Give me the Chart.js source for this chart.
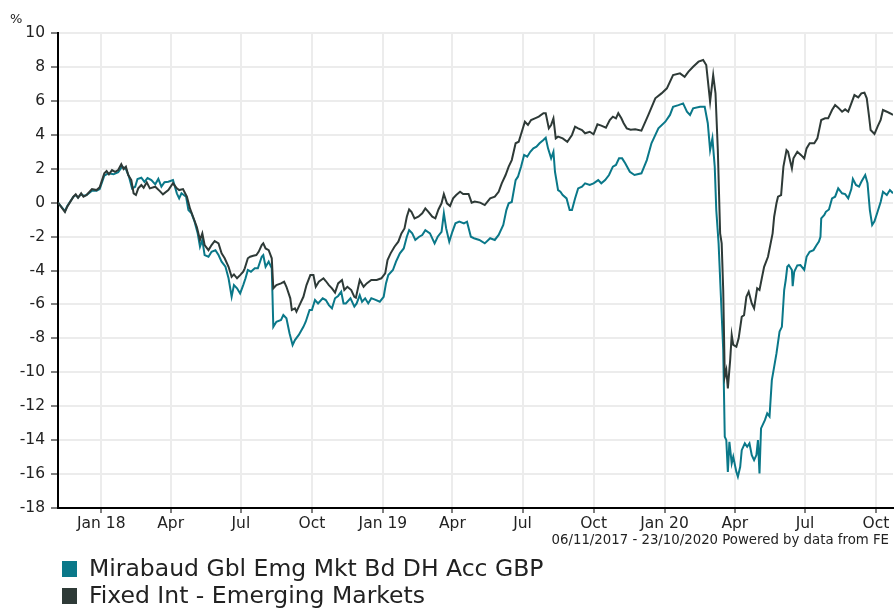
<!DOCTYPE html>
<html>
<head>
<meta charset="utf-8">
<script src="https://cdn.jsdelivr.net/npm/chart.js@4.4.0/dist/chart.umd.min.js"></script>
<style>
  body { margin: 0; background: #fff; font-family: 'DejaVu Sans', Verdana, sans-serif; }
  #wrap { position: relative; width: 894px; height: 608px; }
  #pct { position: absolute; left: 10px; top: 11px; font-size: 13px; color: #222; }
  #note { position: absolute; right: 5px; top: 532px; font-size: 13.3px; color: #222; }
  .leg { position: absolute; left: 62px; font-size: 23.5px; color: #222; white-space: nowrap; line-height: 28px; }
  .leg span { display: inline-block; width: 15px; height: 16px; margin-right: 12px; vertical-align: -1px; }
</style>
</head>
<body>
<div id="wrap">
  <canvas id="myChart" width="894" height="608"></canvas>
  <div id="pct">%</div>
  <div id="note">06/11/2017 - 23/10/2020 Powered by data from FE</div>
  <div class="leg" style="top:554px"><span style="background:#0a7889"></span>Mirabaud Gbl Emg Mkt Bd DH Acc GBP</div>
  <div class="leg" style="top:581px"><span style="background:#2e3a37"></span>Fixed Int - Emerging Markets</div>
</div>
<script>
// days counted from 06/11/2017
const tickDays = [56, 146, 237, 329, 421, 511, 602, 694, 786, 877, 968, 1060];
const tickLabels = ['Jan 18', 'Apr', 'Jul', 'Oct', 'Jan 19', 'Apr', 'Jul', 'Oct', 'Jan 20', 'Apr', 'Jul', 'Oct'];

// Mirabaud Gbl Emg Mkt Bd DH Acc GBP  [day, % growth]
const fund = [
  [0, 0], [9, -0.5], [12, -0.2], [20, 0.35], [23, 0.45], [26, 0.3], [30, 0.5], [33, 0.4], [37, 0.45],
  [44, 0.7], [50, 0.7], [54, 0.8], [60, 1.59], [65, 1.73], [72, 1.67], [78, 1.79], [83, 2.12], [88, 1.98],
  [92, 1.53], [96, 0.84], [100, 0.94], [103, 1.39], [108, 1.47], [112, 1.23], [116, 1.45], [121, 1.33],
  [126, 1.08], [130, 1.4], [134, 0.94], [138, 1.2], [143, 1.23], [149, 1.33], [154, 0.55], [157, 0.25],
  [160, 0.55], [166, 0.35], [169, -0.44], [173, -0.63], [177, -1.12], [181, -1.81], [184, -2.6], [187, -2.2],
  [190, -3.09], [195, -3.19], [199, -2.9], [204, -2.8], [208, -3.09], [212, -3.48], [217, -3.78], [221, -4.46],
  [225, -5.55], [228, -4.86], [232, -5.05], [236, -5.35], [240, -4.86], [243, -4.46], [246, -3.97], [250, -4.07],
  [255, -3.87], [259, -3.87], [264, -3.19], [266, -3.09], [269, -3.78], [273, -3.48], [277, -3.87], [279, -7.32],
  [283, -7.02], [289, -6.92], [292, -6.63], [296, -6.82], [300, -7.7], [304, -8.39], [307, -8.1], [312, -7.8],
  [318, -7.32], [321, -7.02], [326, -6.33], [329, -6.33], [333, -5.74], [337, -5.94], [343, -5.64], [347, -5.74],
  [351, -6.04], [355, -6.23], [359, -5.64], [363, -5.5], [367, -5.25], [370, -5.94], [373, -5.94], [379, -5.64],
  [384, -6.13], [387, -5.94], [391, -5.45], [394, -5.84], [398, -5.64], [402, -5.94], [406, -5.64], [410, -5.7],
  [417, -5.84], [422, -5.55], [425, -4.76], [428, -4.27], [434, -3.97], [438, -3.48], [443, -2.99], [448, -2.7],
  [452, -2.01], [455, -1.62], [459, -1.81], [463, -2.2], [468, -2.01], [472, -1.91], [476, -1.62], [482, -1.81],
  [488, -2.4], [492, -2.01], [497, -1.72], [500, -0.63], [503, -1.52], [507, -2.3], [511, -1.72], [515, -1.22],
  [520, -1.12], [526, -1.22], [530, -1.12], [535, -2.01], [539, -2.1], [546, -2.2], [553, -2.4], [560, -2.1],
  [566, -2.2], [571, -1.9], [577, -1.32], [581, -0.44], [584, -0.04], [588, 0.04], [593, 1.33], [596, 1.53],
  [600, 2.12], [604, 2.81], [608, 2.71], [612, 3.0], [616, 3.2], [620, 3.3], [624, 3.5], [629, 3.69],
  [632, 3.83], [635, 3.2], [639, 2.61], [642, 3.0], [644, 1.82], [648, 0.74], [651, 0.64], [654, 0.45],
  [659, 0.25], [663, -0.44], [666, -0.44], [670, 0.25], [674, 0.84], [679, 0.94], [683, 1.14], [689, 1.04],
  [694, 1.14], [700, 1.33], [704, 1.14], [709, 1.33], [714, 1.63], [719, 2.12], [723, 2.22], [727, 2.61],
  [731, 2.61], [735, 2.32], [741, 1.82], [747, 1.63], [756, 1.73], [763, 2.51], [769, 3.5], [778, 4.38],
  [787, 4.77], [793, 5.17], [797, 5.65], [804, 5.75], [810, 5.85], [815, 5.36], [819, 5.17], [823, 5.56],
  [832, 5.65], [838, 5.65], [842, 4.68], [845, 3.1], [848, 3.79], [851, 2.12], [853, -0.44], [856, -2.4],
  [859, -5.55], [862, -8.69], [864, -13.8], [866, -14.0], [868, -15.87], [870, -14.1], [873, -15.37], [875, -14.98],
  [879, -15.87], [881, -16.16], [884, -15.57], [886, -14.59], [890, -14.19], [893, -14.39], [896, -14.19], [899, -14.88],
  [902, -15.18], [905, -14.88], [907, -14.0], [909, -15.96], [911, -13.31], [916, -12.82], [919, -12.42], [922, -12.6],
  [925, -10.46], [928, -9.68], [931, -8.89], [935, -7.6], [938, -7.32], [941, -5.15], [943, -4.56], [945, -3.78],
  [947, -3.68], [951, -3.97], [952, -4.92], [954, -4.07], [958, -3.7], [962, -3.68], [967, -3.97], [970, -3.19],
  [974, -2.9], [979, -2.8], [983, -2.5], [986, -2.3], [988, -2.01], [989, -0.93], [993, -0.73], [995, -0.54],
  [999, -0.4], [1003, 0.25], [1007, 0.35], [1011, 0.84], [1016, 0.55], [1020, 0.5], [1024, 0.25], [1028, 0.8],
  [1030, 1.4], [1034, 1.04], [1038, 0.94], [1041, 1.23], [1046, 1.63], [1049, 1.14], [1052, -0.44], [1055, -1.32],
  [1058, -1.1], [1062, -0.54], [1066, 0.04], [1069, 0.64], [1074, 0.45], [1078, 0.74], [1082, 0.55]
];

// Fixed Int - Emerging Markets  [day, % growth]
const sector = [
  [0, 0], [9, -0.55], [12, -0.24], [20, 0.35], [23, 0.49], [26, 0.29], [30, 0.55], [33, 0.35], [37, 0.45],
  [44, 0.8], [50, 0.74], [54, 0.9], [60, 1.73], [63, 1.86], [66, 1.67], [70, 1.92], [74, 1.82], [78, 1.92],
  [82, 2.26], [85, 1.98], [88, 2.12], [91, 1.63], [95, 1.33], [98, 0.55], [101, 0.45], [104, 0.84], [108, 1.04],
  [111, 0.88], [115, 1.2], [119, 0.84], [126, 0.94], [132, 0.68], [136, 0.49], [143, 0.74], [149, 1.14],
  [154, 0.84], [157, 0.74], [162, 0.8], [167, 0.35], [171, -0.34], [175, -0.83], [180, -1.45], [184, -2.2],
  [187, -1.81], [190, -2.5], [195, -2.8], [199, -2.5], [203, -2.26], [208, -2.4], [212, -2.99], [216, -3.28],
  [221, -3.78], [225, -4.37], [228, -4.23], [232, -4.46], [236, -4.27], [240, -4.07], [242, -3.87], [246, -3.28],
  [249, -3.19], [253, -3.13], [257, -3.09], [260, -2.9], [264, -2.5], [266, -2.4], [269, -2.7], [273, -2.8],
  [277, -3.28], [279, -5.05], [283, -4.86], [289, -4.76], [293, -4.66], [296, -4.96], [301, -5.64], [303, -6.33],
  [307, -6.23], [309, -6.43], [314, -5.94], [318, -5.55], [322, -4.86], [327, -4.27], [331, -4.27], [334, -4.96],
  [338, -4.66], [344, -4.46], [347, -4.62], [351, -4.86], [355, -5.05], [359, -5.3], [363, -4.76], [368, -4.56],
  [371, -5.15], [375, -4.96], [380, -5.15], [384, -5.55], [386, -5.6], [391, -4.56], [396, -4.96], [400, -4.76],
  [406, -4.56], [413, -4.56], [419, -4.46], [424, -4.17], [427, -3.38], [431, -2.99], [436, -2.6], [441, -2.3],
  [445, -1.81], [449, -1.52], [452, -0.83], [455, -0.4], [458, -0.54], [462, -0.93], [467, -0.83], [472, -0.63],
  [476, -0.34], [480, -0.54], [485, -0.83], [489, -0.93], [493, -0.4], [497, -0.04], [500, 0.51], [504, -0.04],
  [508, -0.2], [512, 0.25], [516, 0.45], [521, 0.64], [525, 0.51], [532, 0.51], [536, 0], [540, 0.07],
  [547, 0], [553, -0.14], [560, 0.25], [566, 0.35], [571, 0.64], [575, 1.14], [580, 1.63], [584, 2.12],
  [588, 2.51], [593, 3.5], [597, 3.59], [601, 4.18], [605, 4.77], [609, 4.58], [613, 4.87], [618, 4.97],
  [623, 5.07], [629, 5.27], [632, 5.27], [636, 4.38], [639, 4.58], [642, 4.97], [645, 3.79], [648, 3.89],
  [654, 3.79], [660, 3.59], [666, 3.99], [670, 4.48], [674, 4.38], [679, 4.28], [683, 4.09], [689, 4.18],
  [694, 4.03], [699, 4.62], [704, 4.54], [710, 4.42], [715, 4.87], [719, 5.07], [723, 4.97], [726, 5.27],
  [730, 4.97], [733, 4.68], [737, 4.38], [742, 4.3], [748, 4.32], [756, 4.24], [765, 5.17], [774, 6.15],
  [782, 6.44], [789, 6.74], [797, 7.52], [806, 7.62], [812, 7.42], [817, 7.72], [823, 8.01], [830, 8.31],
  [836, 8.41], [840, 8.11], [845, 5.95], [849, 7.52], [852, 6.44], [855, 3.1], [858, -1.81], [860, -2.4],
  [862, -5.15], [864, -10.26], [866, -9.87], [868, -10.95], [871, -9.28], [873, -7.8], [875, -8.39], [879, -8.49],
  [882, -8.0], [886, -6.73], [889, -6.63], [892, -5.55], [895, -5.25], [899, -5.94], [902, -6.23], [906, -5.05],
  [909, -5.15], [912, -4.46], [915, -3.78], [920, -3.19], [926, -1.81], [928, -0.83], [931, -0.04], [933, 0.35],
  [937, 0.45], [940, 2.12], [944, 3.1], [946, 3.0], [951, 2.02], [953, 2.61], [958, 3.0], [963, 2.8],
  [967, 2.61], [970, 3.2], [974, 3.5], [980, 3.5], [984, 3.79], [989, 4.87], [994, 4.97], [998, 4.97],
  [1003, 5.46], [1007, 5.75], [1011, 5.6], [1016, 5.36], [1020, 5.5], [1024, 5.36], [1028, 5.85], [1032, 6.34],
  [1037, 6.2], [1041, 6.44], [1045, 6.48], [1048, 6.15], [1051, 5.07], [1053, 4.28], [1058, 4.05], [1062, 4.48],
  [1066, 4.87], [1069, 5.46], [1074, 5.36], [1078, 5.27], [1082, 5.17]
];

const toPoints = arr => arr.map(p => ({ x: p[0], y: p[1] }));

const ctx = document.getElementById('myChart');
Chart.defaults.font.family = "'DejaVu Sans', Verdana, sans-serif";
Chart.defaults.color = '#222';

new Chart(ctx, {
    type: 'line',
    data: {
        datasets: [
            {
                label: 'Mirabaud Gbl Emg Mkt Bd DH Acc GBP',
                data: toPoints(fund),
                borderColor: '#0a7889',
                borderWidth: 2,
                pointRadius: 0,
                order: 1,
            },
            {
                label: 'Fixed Int - Emerging Markets',
                data: toPoints(sector),
                borderColor: '#2e3a37',
                borderWidth: 2,
                pointRadius: 0,
                order: 0,
            }
        ]
    },
    options: {
        responsive: false,
        animation: false,
        layout: { padding: { top: 33, right: 1, bottom: 70, left: 0 } },
        plugins: {
            legend: { display: false },
            tooltip: { enabled: false },
        },
        scales: {
            x: {
                type: 'linear',
                min: 0,
                max: 1082,
                afterBuildTicks: function (scale) {
                    scale.ticks = tickDays.map(d => ({ value: d }));
                },
                afterFit: function (scale) {
                    scale.height = 30;
                },
                ticks: {
                    autoSkip: false,
                    maxRotation: 0,
                    padding: 2,
                    font: { size: 15.5 },
                    callback: function (value, index) {
                        return tickLabels[index];
                    }
                },
                grid: { color: '#ececec', lineWidth: 2, tickColor: '#000', tickLength: 5, tickWidth: 1 },
                border: { color: '#000', width: 2 },
            },
            y: {
                min: -18,
                max: 10,
                afterFit: function (scale) {
                    scale.width = 58;
                },
                ticks: {
                    stepSize: 2,
                    padding: 6,
                    font: { size: 15.5 },
                },
                grid: { color: '#ececec', lineWidth: 2, tickColor: '#000', tickLength: 7, tickWidth: 1 },
                border: { color: '#000', width: 2 },
            }
        }
    }
});
</script>
</body>
</html>
